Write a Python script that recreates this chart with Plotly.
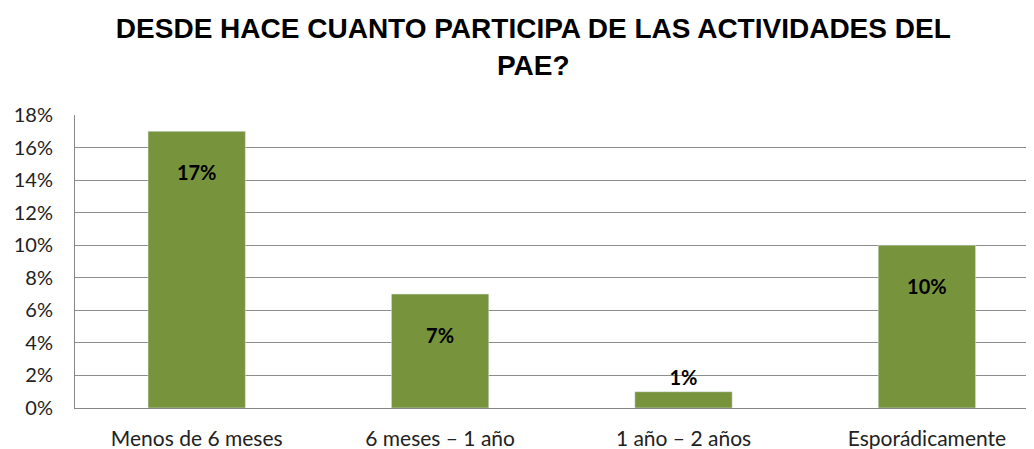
import plotly.graph_objects as go

categorias = ["Menos de 6 meses", "6 meses – 1 año", "1 año – 2 años", "Esporádicamente"]
porcentajes = [0.17, 0.07, 0.01, 0.10]
etiquetas = ["\u00a0<br>17%", "\u00a0<br>7%", "1%", "\u00a0<br>10%"]
posiciones = ["inside", "inside", "outside", "inside"]

fig = go.Figure()
fig.add_trace(go.Bar(
    x=categorias, y=porcentajes,
    marker_color="#77933C",
    width=0.4,
    text=etiquetas, textposition=posiciones,
    insidetextanchor="end",
    textfont=dict(family="Lato", size=20, color="black", weight="bold"),
    cliponaxis=False,
))

# the page body has an 8px margin, so the figure is 8px smaller on each side
fig.update_layout(
    width=1026, height=441,
    margin=dict(l=67, r=0, t=107, b=41),
    paper_bgcolor="white", plot_bgcolor="white",
    showlegend=False,
    title=dict(
        text="DESDE HACE CUANTO PARTICIPA DE LAS ACTIVIDADES DEL<br>PAE?",
        x=0.512, xanchor="center", y=0.931, yanchor="top",
        font=dict(family="Liberation Sans", size=28, color="black", weight="bold"),
    ),
    font=dict(family="Lato", size=21, color="#222"),
)
fig.update_xaxes(
    range=[-0.5, 3.44], automargin=False,
    showline=True, linecolor="#868686", linewidth=1,
    ticks="", ticklabelstandoff=12,
    tickfont=dict(size=21),
)
fig.update_yaxes(
    range=[0, 0.18], dtick=0.02, tickformat=".0%", automargin=False,
    showgrid=True, gridcolor="#8c8c8c", gridwidth=1,
    showline=True, linecolor="#868686", linewidth=1,
    zeroline=False,
    ticks="", ticklabelstandoff=17,
    tickfont=dict(size=20),
)

fig.write_html("out.html")
